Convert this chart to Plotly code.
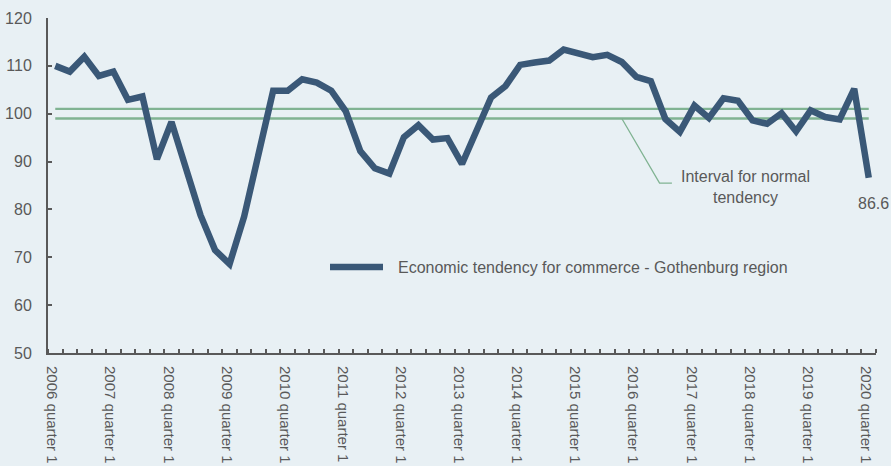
import plotly.graph_objects as go

# ---- data ----
quarters = [f"{y} quarter {q}" for y in range(2006, 2021) for q in range(1, 5)][:57]
values = [110.0, 108.8, 111.9, 107.9, 108.8, 102.9, 103.6, 90.5, 98.3, 88.9,
          78.8, 71.5, 68.6, 78.5, 91.0, 104.8, 104.8, 107.2, 106.5, 104.8,
          100.5, 92.2, 88.6, 87.5, 95.1, 97.6, 94.6, 94.9, 89.5, 96.8,
          103.4, 105.8, 110.2, 110.7, 111.1, 113.4, 112.6, 111.8, 112.3, 110.8,
          107.7, 106.8, 98.9, 96.2, 101.7, 99.1, 103.2, 102.7, 98.6, 97.9,
          100.1, 96.3, 100.7, 99.3, 98.8, 105.2, 86.6]
interval_upper = 101
interval_lower = 99
series_name = "Economic tendency for commerce - Gothenburg region"
interval_label = "Interval for normal<br>tendency"
label_every = 4

idx = list(range(len(quarters)))
tick_idx = idx[::label_every]
tick_text = [quarters[i] for i in tick_idx]

BG = "#e8f0f4"
LINE = "#3a5877"
GREEN = "#80b392"
TXT = "#595959"
FONT = "Liberation Sans, Arial, sans-serif"

fig = go.Figure()
fig.add_trace(go.Scatter(x=idx, y=[interval_upper] * len(idx), mode="lines",
                         line=dict(color=GREEN, width=2.3), showlegend=False, hoverinfo="skip"))
fig.add_trace(go.Scatter(x=idx, y=[interval_lower] * len(idx), mode="lines",
                         line=dict(color=GREEN, width=2.3), showlegend=False, hoverinfo="skip"))
fig.add_trace(go.Scatter(x=idx, y=values, mode="lines", name=series_name,
                         line=dict(color=LINE, width=6.5, shape="linear"),
                         showlegend=False))

# callout leader line for the interval
fig.add_shape(type="path", xref="x", yref="y",
              path="M 39,99 L 41.6,85.5 L 42.45,85.5",
              line=dict(color=GREEN, width=1.3))
fig.add_annotation(x=47.5, y=84.7, xref="x", yref="y", text=interval_label,
                   showarrow=False, font=dict(family=FONT, size=16, color=TXT),
                   align="center")
# last value label
fig.add_annotation(x=idx[-1], y=values[-1], xref="x", yref="y", text=f"{values[-1]}",
                   showarrow=False, xshift=5, yshift=-26,
                   font=dict(family=FONT, size=16, color=TXT))

# manual legend
fig.add_shape(type="line", xref="paper", yref="paper",
              x0=(330 - 48) / 828, x1=(383 - 48) / 828, y0=(353 - 267) / 335, y1=(353 - 267) / 335,
              line=dict(color=LINE, width=6.5))
fig.add_annotation(x=(396 - 48) / 828, y=(353 - 267) / 335, xref="paper", yref="paper",
                   text=series_name, showarrow=False, xanchor="left", yanchor="middle",
                   font=dict(family=FONT, size=16, color=TXT))

fig.update_layout(
    width=891, height=466,
    paper_bgcolor=BG, plot_bgcolor=BG,
    margin=dict(l=48, r=15, t=18, b=113, autoexpand=False),
    font=dict(family=FONT, size=16, color=TXT),
    showlegend=False,
    xaxis=dict(
        range=[-0.5, len(idx) - 0.5], automargin=False,
        tickmode="array", tickvals=tick_idx, ticktext=tick_text,
        tickangle=90, ticks="", showgrid=False, zeroline=False,
        showline=True, linecolor="#595959", linewidth=2,
        tickfont=dict(family=FONT, size=15, color=TXT),
        ticklabelstandoff=8, ticklabelshift=-3,
        minor=dict(tickmode="array", tickvals=[i - 0.5 for i in range(len(idx) + 1)],
                   ticks="inside", ticklen=4, tickwidth=1.5, tickcolor="#595959",
                   showgrid=False),
    ),
    yaxis=dict(
        range=[50, 120], dtick=10, tick0=50, automargin=False,
        ticks="inside", ticklen=4, tickwidth=1.5, tickcolor="#595959",
        showgrid=False, zeroline=False,
        showline=True, linecolor="#595959", linewidth=2,
        tickfont=dict(family=FONT, size=16, color=TXT),
        ticklabelstandoff=11,
    ),
)

fig.write_html("out.html", config={"displayModeBar": False},
               post_script="document.body.style.margin='0';document.body.style.background='" + BG + "';")
